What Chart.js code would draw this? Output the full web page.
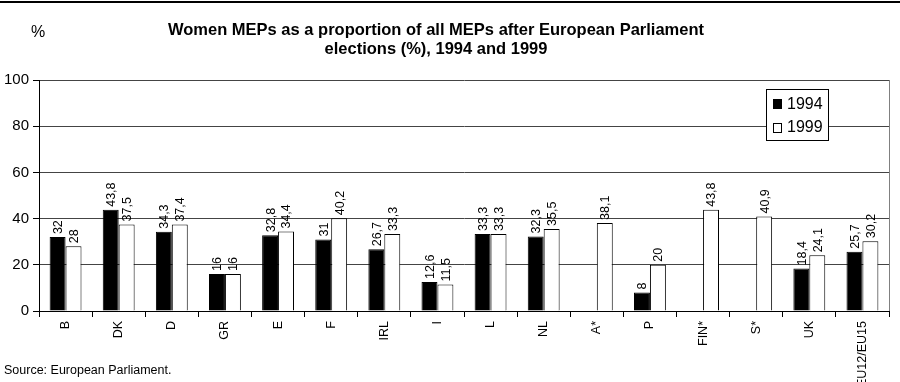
<!DOCTYPE html>
<html>
<head>
<meta charset="utf-8">
<script src="https://cdn.jsdelivr.net/npm/chart.js@4"></script>
<style>
  html, body { margin: 0; padding: 0; background: #fff; }
  #wrap { width: 900px; height: 382px; position: relative; }
</style>
</head>
<body>
<div id="wrap"><canvas id="chart" width="900" height="382"></canvas></div>
<script>
const countries = ['B', 'DK', 'D', 'GR', 'E', 'F', 'IRL', 'I', 'L', 'NL', 'A*', 'P', 'FIN*', 'S*', 'UK', 'EU12/EU15'];
const women1994 = [32, 43.8, 34.3, 16, 32.8, 31, 26.7, 12.6, 33.3, 32.3, null, 8, null, null, 18.4, 25.7];
const women1999 = [28, 37.5, 37.4, 16, 34.4, 40.2, 33.3, 11.5, 33.3, 35.5, 38.1, 20, 43.8, 40.9, 24.1, 30.2];
const yTicks = [0, 20, 40, 60, 80, 100];

const FONT = "'Liberation Sans', Arial, sans-serif";

// title, source, legend box, value labels
const decorations = {
  id: 'decorations',
  afterDraw(chart) {
    const ctx = chart.ctx;
    const area = chart.chartArea;
    ctx.save();

    // top rule
    ctx.fillStyle = '#000';
    ctx.fillRect(0, 1, 900, 2);

    // right border of plot
    ctx.strokeStyle = '#808080';
    ctx.lineWidth = 1;
    ctx.beginPath();
    ctx.moveTo(area.right + 0.5, area.top);
    ctx.lineTo(area.right + 0.5, area.bottom);
    ctx.stroke();

    ctx.fillStyle = '#000';
    ctx.textBaseline = 'middle';
    ctx.textAlign = 'center';
    ctx.font = 'bold 16.5px ' + FONT;
    ctx.fillText('Women MEPs as a proportion of all MEPs after European Parliament', 436, 30);
    ctx.fillText('elections (%), 1994 and 1999', 436, 49);

    ctx.font = '16px ' + FONT;
    ctx.fillText('%', 38, 33);

    ctx.textAlign = 'left';
    ctx.font = '12.5px ' + FONT;
    ctx.fillText('Source: European Parliament.', 4, 371);

    // legend
    ctx.strokeStyle = '#000';
    ctx.fillStyle = '#fff';
    ctx.fillRect(766, 89, 62, 51);
    ctx.strokeRect(766.5, 89.5, 62, 51);
    ctx.fillStyle = '#000';
    ctx.fillRect(773, 99, 9, 10);
    ctx.fillStyle = '#fff';
    ctx.fillRect(773, 123, 9, 9);
    ctx.strokeRect(773.5, 123.5, 8, 9);
    ctx.fillStyle = '#000';
    ctx.font = '16px ' + FONT;
    ctx.fillText('1994', 787, 105);
    ctx.fillText('1999', 787, 128);

    // value labels
    ctx.font = '12.5px ' + FONT;
    ctx.textAlign = 'left';
    ctx.textBaseline = 'middle';
    chart.data.datasets.forEach((ds, i) => {
      chart.getDatasetMeta(i).data.forEach((bar, j) => {
        const v = ds.data[j];
        if (v === null) return;
        ctx.save();
        ctx.translate(bar.x + 1, bar.y - 3);
        ctx.rotate(-Math.PI / 2);
        ctx.fillText(String(v).replace('.', ','), 0, 0);
        ctx.restore();
      });
    });
    ctx.restore();
  }
};

new Chart(document.getElementById('chart'), {
  type: 'bar',
  data: {
    labels: countries,
    datasets: [
      {
        label: '1994',
        data: women1994,
        backgroundColor: '#000',
        borderColor: '#000',
        borderWidth: 1,
        categoryPercentage: 0.6,
        barPercentage: 1
      },
      {
        label: '1999',
        data: women1999,
        backgroundColor: '#fff',
        borderColor: '#000',
        borderWidth: 1,
        categoryPercentage: 0.6,
        barPercentage: 1
      }
    ]
  },
  options: {
    responsive: false,
    animation: false,
    layout: { padding: { top: 80, right: 11, left: 0, bottom: 0 } },
    plugins: {
      legend: { display: false },
      tooltip: { enabled: false }
    },
    scales: {
      x: {
        grid: { offset: true, drawOnChartArea: false, drawTicks: true, tickLength: 6, color: '#000' },
        border: { color: '#000', width: 1 },
        ticks: {
          color: '#000', font: { family: FONT, size: 12.5 },
          minRotation: 90, maxRotation: 90, padding: 4, autoSkip: false
        },
        afterFit(scale) { scale.height = 71; }
      },
      y: {
        min: 0,
        max: 100,
        afterBuildTicks(scale) { scale.ticks = yTicks.map(v => ({ value: v })); },
        grid: { color: '#444', tickLength: 6, tickColor: '#000' },
        border: { color: '#000', width: 1 },
        ticks: { color: '#000', font: { family: FONT, size: 15 }, padding: 4 },
        afterFit(scale) { scale.width = 39; }
      }
    }
  },
  plugins: [decorations]
});
</script>
</body>
</html>
